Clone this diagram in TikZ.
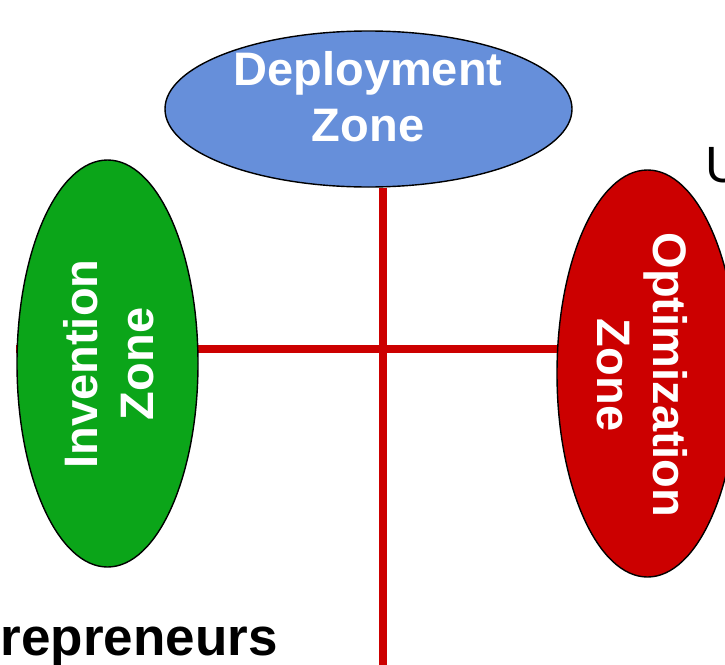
\documentclass[tikz,border=0pt]{standalone}
\usepackage{fontspec}
\setmainfont{Liberation Sans}
\usetikzlibrary{shapes.geometric}
\pgfdeclarelayer{background}
\pgfsetlayers{background,main}
\definecolor{zoneblue}{RGB}{102,143,218}
\definecolor{zonegreen}{RGB}{11,165,25}
\definecolor{zonered}{RGB}{204,0,0}
\tikzset{
  zone/.style={ellipse, draw=black, line width=1.4pt, inner sep=0pt},
  zonetext/.style={text=white, font=\fontsize{47}{56}\selectfont\bfseries, align=center, inner sep=0pt},
  axis/.style={draw=zonered, line width=8pt},
}
\begin{document}
\begin{tikzpicture}[x=1pt,y=-1pt]
\useasboundingbox (0,0) rectangle (725,664);

% the three zones
\node[zone, fill=zoneblue, minimum width=407pt, minimum height=156pt] (dep) at (368.5,109) {};
\node[zone, fill=zonegreen, minimum width=407pt, minimum height=181pt, rotate=90] (inv) at (107.5,363.5) {};
\node[zone, fill=zonered, minimum width=407pt, minimum height=181pt, rotate=90] (opt) at (647.5,373.5) {};

% axes, behind the zones
\coordinate (vbot) at (383,672);
\begin{pgfonlayer}{background}
  \draw[axis] (dep.south -| vbot) -- (vbot);
  \draw[axis] (inv.north |- 0,348.5) -- (opt.south |- 0,348.5);
\end{pgfonlayer}

% zone labels
\node[zonetext] (deptext) at (368,97) {Deployment\\Zone};
\node[zonetext, rotate=90] (invtext) at (108.5,364) {Invention\\Zone};
\node[zonetext, rotate=-90] (opttext) at (642,375) {Optimization\\Zone};

% side texts
\node[anchor=base west, inner sep=0pt, font=\fontsize{51}{60}\selectfont] (utext) at (705,182) {U};
\node[anchor=base east, inner sep=0pt, font=\fontsize{53}{62}\selectfont\bfseries] (entext) at (278,655) {repreneurs};
\end{tikzpicture}
\end{document}
